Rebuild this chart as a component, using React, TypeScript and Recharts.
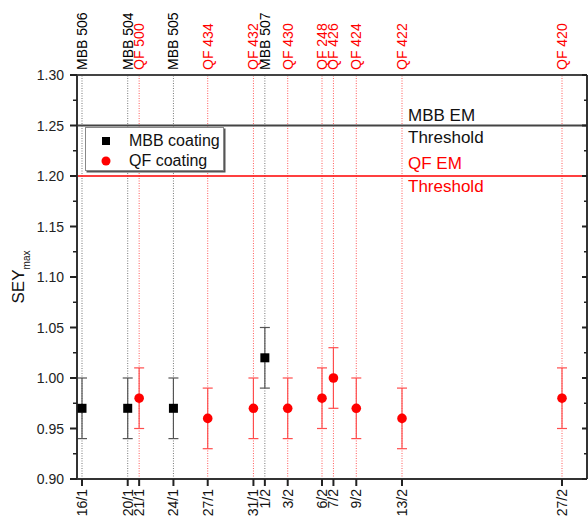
import React from 'react';
import {
  ScatterChart,
  Scatter,
  XAxis,
  YAxis,
  ErrorBar,
  ReferenceLine,
  Legend,
  Label,
} from 'recharts';

// ---- data ----
const mbbDates = ['16/1', '20/1', '24/1', '1/2'];
const mbbSamples = ['MBB 506', 'MBB 504', 'MBB 505', 'MBB 507'];
const mbbSey = [0.97, 0.97, 0.97, 1.02];
const mbbErr = [0.03, 0.03, 0.03, 0.03];

const qfDates = ['21/1', '27/1', '31/1', '3/2', '6/2', '7/2', '9/2', '13/2', '27/2'];
const qfSamples = ['QF 500', 'QF 434', 'QF 432', 'QF 430', 'QF 248', 'QF 426', 'QF 424', 'QF 422', 'QF 420'];
const qfSey = [0.98, 0.96, 0.97, 0.97, 0.98, 1.0, 0.97, 0.96, 0.98];
const qfErr = [0.03, 0.03, 0.03, 0.03, 0.03, 0.03, 0.03, 0.03, 0.03];

const yTicks = [0.9, 0.925, 0.95, 0.975, 1.0, 1.025, 1.05, 1.075, 1.1, 1.125, 1.15, 1.175, 1.2, 1.225, 1.25, 1.275, 1.3];
const yDomain: [number, number] = [0.9, 1.3];
const xDomain: [number, number] = [15.5625, 60.1875];

const mbbThreshold = 1.25;
const qfThreshold = 1.2;

// ---- helpers ----
const dayOf = (s: string) => {
  const [d, m] = s.split('/').map(Number);
  return m === 1 ? d : 31 + d;
};

const MBB_COLOR = '#000000';
const QF_COLOR = '#ff0000';
const FONT = '"Liberation Sans", Arial, sans-serif';

const mbbData = mbbDates.map((d, i) => ({ x: dayOf(d), y: mbbSey[i], err: mbbErr[i] }));
const qfData = qfDates.map((d, i) => ({ x: dayOf(d), y: qfSey[i], err: qfErr[i] }));

const bottomLabel = new Map<number, string>();
const topLabel = new Map<number, { name: string; color: string }>();
mbbDates.forEach((d, i) => {
  bottomLabel.set(dayOf(d), d);
  topLabel.set(dayOf(d), { name: mbbSamples[i], color: MBB_COLOR });
});
qfDates.forEach((d, i) => {
  bottomLabel.set(dayOf(d), d);
  topLabel.set(dayOf(d), { name: qfSamples[i], color: QF_COLOR });
});
const allDays = Array.from(bottomLabel.keys()).sort((a, b) => a - b);

// ---- custom ticks ----
const BottomTick = (props: any) => {
  const { x, y, payload } = props;
  const label = bottomLabel.get(payload.value) ?? '';
  const px = x + 5;
  return (
    <text x={px} y={y} transform={`rotate(-90, ${px}, ${y})`} textAnchor="end" fontSize={14} fill="#111" fontFamily={FONT}>
      {label}
    </text>
  );
};

const TopTick = (props: any) => {
  const { x, y, payload } = props;
  const info = topLabel.get(payload.value);
  if (!info) return null;
  const px = x + 5;
  return (
    <text x={px} y={y} transform={`rotate(-90, ${px}, ${y})`} textAnchor="start" fontSize={14} fill={info.color} fontFamily={FONT}>
      {info.name}
    </text>
  );
};

const isMajor = (v: number) => Math.abs(v * 20 - Math.round(v * 20)) < 1e-6;

const LeftTick = (props: any) => {
  const { x, y, payload } = props;
  const v = payload.value as number;
  const major = isMajor(v);
  const ax = x + 13;
  return (
    <g>
      <line x1={ax - (major ? 7 : 4)} x2={ax} y1={y} y2={y} stroke="#222" strokeWidth={major ? 2 : 1.5} />
      {major && (
        <text x={x} y={y} dy="0.36em" textAnchor="end" fontSize={14} fill="#222" fontFamily={FONT}>
          {v.toFixed(2)}
        </text>
      )}
    </g>
  );
};

const RightTick = (props: any) => {
  const { x, y, payload } = props;
  const major = isMajor(payload.value as number);
  return <line x1={x - (major ? 5 : 3)} x2={x} y1={y} y2={y} stroke="#222" strokeWidth={major ? 2 : 1.5} />;
};

const YAxisTitle = (props: any) => {
  const vb = props.viewBox || { x: 0, y: 75, width: 77, height: 404 };
  const cy = vb.y + vb.height / 2;
  const bx = 24;
  return (
    <text x={bx} y={cy} transform={`rotate(-90, ${bx}, ${cy})`} textAnchor="middle" fontSize={17} fill="#111" fontFamily={FONT}>
      SEY
      <tspan fontSize={10} dy={6}>max</tspan>
    </text>
  );
};

const thresholdLabel = (top: string, bottom: string, color: string, upOff: number, downOff: number) => (props: any) => {
  const vb = props.viewBox || {};
  const x = (vb.x ?? 77) + 331;
  const y = vb.y ?? 0;
  return (
    <g fontFamily={FONT} fontSize={17} fill={color}>
      <text x={x} y={y - upOff}>{top}</text>
      <text x={x} y={y + downOff}>{bottom}</text>
    </g>
  );
};

const MbbShape = (props: any) => {
  const { cx, cy } = props;
  return <rect x={cx - 4.5} y={cy - 4.5} width={9} height={9} fill={MBB_COLOR} />;
};
const QfShape = (props: any) => {
  const { cx, cy } = props;
  return <circle cx={cx} cy={cy} r={4.8} fill={QF_COLOR} />;
};

const LegendBox = () => (
  <div
    style={{
      width: 137,
      height: 42,
      border: '1.5px solid #888',
      boxShadow: '1.5px 1.5px 0 #555',
      background: '#fff',
      fontFamily: FONT,
      fontSize: 16,
      color: '#111',
      position: 'relative',
    }}
  >
    <svg width={137} height={42} style={{ position: 'absolute', left: 0, top: 0 }}>
      <rect x={16} y={9} width={8} height={8} fill={MBB_COLOR} />
      <circle cx={20} cy={33} r={4.5} fill={QF_COLOR} />
      <text x={43} y={18} fontSize={16} fontFamily={FONT} fill="#111">MBB coating</text>
      <text x={43} y={38} fontSize={16} fontFamily={FONT} fill="#111">QF coating</text>
    </svg>
  </div>
);

export default function App() {
  return (
    <div style={{ position: 'absolute', left: 0, top: 0, width: 588, height: 518, background: '#fff' }}>
      <ScatterChart width={588} height={518} margin={{ top: 0, right: 0, bottom: 0, left: 0 }}>
        <XAxis
          xAxisId="b"
          dataKey="x"
          type="number"
          orientation="bottom"
          domain={xDomain}
          allowDataOverflow
          ticks={allDays}
          interval={0}
          height={39}
          tickSize={7}
          tickMargin={3}
          tick={<BottomTick />}
          axisLine={{ stroke: '#333', strokeWidth: 2 }}
          tickLine={{ stroke: '#222', strokeWidth: 2 }}
        />
        <XAxis
          xAxisId="t"
          dataKey="x"
          type="number"
          orientation="top"
          domain={xDomain}
          allowDataOverflow
          ticks={allDays}
          interval={0}
          height={75}
          tickSize={5}
          tickMargin={0}
          tick={<TopTick />}
          axisLine={{ stroke: '#444', strokeWidth: 2 }}
          tickLine={false}
        />
        <YAxis
          yAxisId="l"
          dataKey="y"
          type="number"
          orientation="left"
          domain={yDomain}
          allowDataOverflow
          ticks={yTicks}
          interval={0}
          width={77}
          tickSize={7}
          tickMargin={6}
          tick={<LeftTick />}
          tickLine={false}
          axisLine={{ stroke: '#333', strokeWidth: 2 }}
        >
          <Label content={<YAxisTitle />} />
        </YAxis>
        <YAxis
          yAxisId="r"
          type="number"
          orientation="right"
          domain={yDomain}
          allowDataOverflow
          ticks={yTicks}
          interval={0}
          width={1}
          tickSize={0}
          tickMargin={0}
          tick={<RightTick />}
          tickLine={false}
          axisLine={{ stroke: '#333', strokeWidth: 2 }}
        />

        {mbbData.map((d) => (
          <ReferenceLine key={`gm${d.x}`} xAxisId="b" yAxisId="l" x={d.x} stroke="#777" strokeWidth={1} strokeDasharray="1 1.5" />
        ))}
        {qfData.map((d) => (
          <ReferenceLine key={`gq${d.x}`} xAxisId="b" yAxisId="l" x={d.x} stroke="#ff5a5a" strokeWidth={1} strokeDasharray="1 1.5" />
        ))}

        <ReferenceLine
          xAxisId="b"
          yAxisId="l"
          y={mbbThreshold}
          stroke="#444"
          strokeWidth={2}
          label={thresholdLabel('MBB EM', 'Threshold', '#111', 5, 17)}
        />
        <ReferenceLine
          xAxisId="b"
          yAxisId="l"
          y={qfThreshold}
          stroke={QF_COLOR}
          strokeWidth={1.5}
          label={thresholdLabel('QF EM', 'Threshold', QF_COLOR, 7, 16)}
        />

        <Scatter name="MBB coating" data={mbbData} xAxisId="b" yAxisId="l" fill={MBB_COLOR} shape={<MbbShape />} isAnimationActive={false}>
          <ErrorBar dataKey="err" direction="y" width={5} stroke="#555" strokeWidth={1.2} isAnimationActive={false} />
        </Scatter>
        <Scatter name="QF coating" data={qfData} xAxisId="b" yAxisId="l" fill={QF_COLOR} shape={<QfShape />} isAnimationActive={false}>
          <ErrorBar dataKey="err" direction="y" width={5} stroke="#ff4d4d" strokeWidth={1.2} isAnimationActive={false} />
        </Scatter>

        <Legend
          layout="horizontal"
          verticalAlign="middle"
          align="center"
          content={<LegendBox />}
          wrapperStyle={{ position: 'absolute', left: 85, top: 127, width: 140, height: 45 }}
        />
      </ScatterChart>
    </div>
  );
}
